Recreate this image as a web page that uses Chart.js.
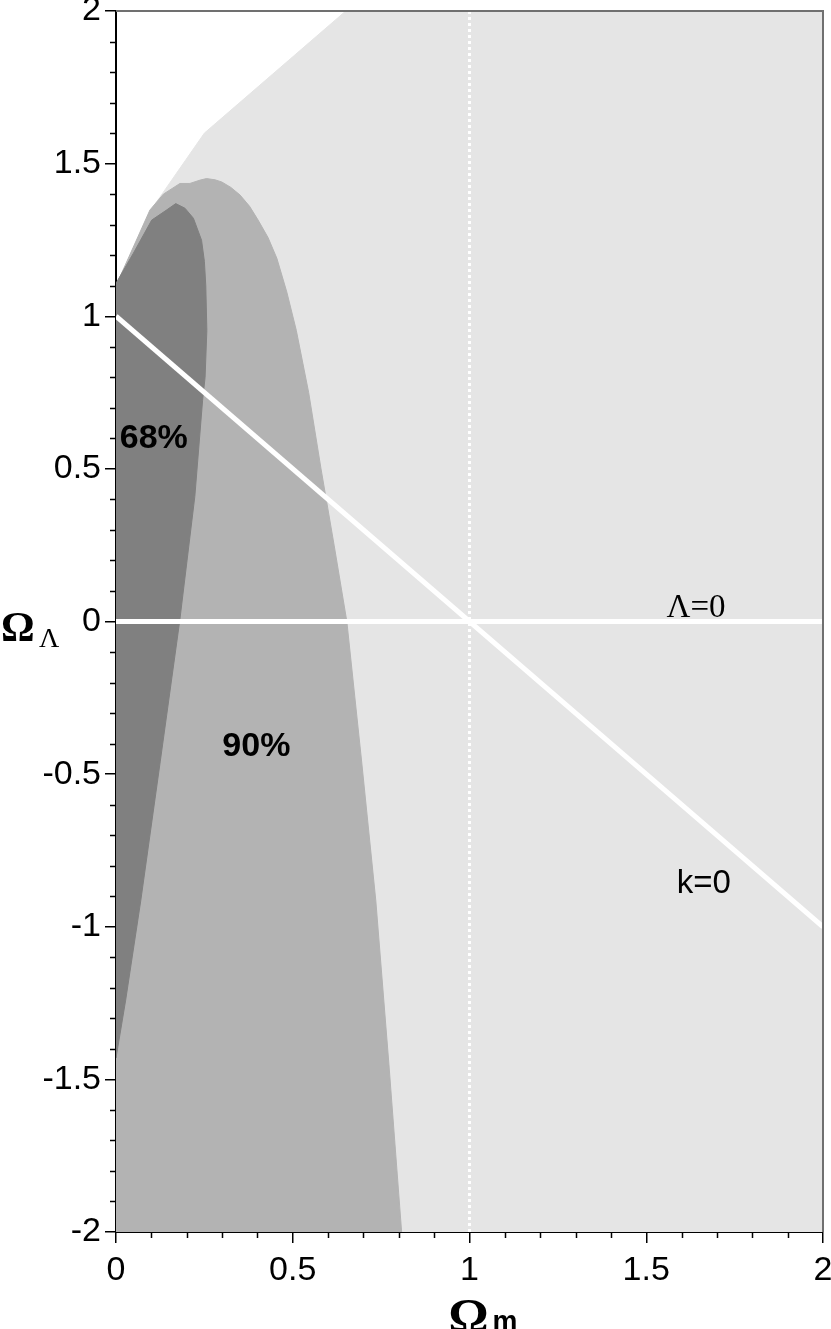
<!DOCTYPE html>
<html>
<head>
<meta charset="utf-8">
<script src="https://cdn.jsdelivr.net/npm/chart.js@4/dist/chart.umd.min.js"></script>
<style>
  body { margin: 0; background: #ffffff; }
</style>
</head>
<body>
<canvas id="myChart" width="831" height="1329"></canvas>
<script>
// allowed region (everything but the upper left corner)
const allowedX = [0, 0.1, 0.25, 0.65, 2, 2, 0, 0];
const allowedY = [1.1, 1.35, 1.6, 2, 2, -2, -2, 1.1];

// 90% confidence contour
const c90X = [0, 0.096, 0.134, 0.181, 0.209, 0.238, 0.256, 0.28, 0.299, 0.325, 0.351, 0.378, 0.402, 0.43, 0.455, 0.483, 0.51, 0.545, 0.58, 0.617, 0.653, 0.695, 0.735, 0.772, 0.808, 0, 0];
const c90Y = [1.1, 1.348, 1.40, 1.435, 1.435, 1.446, 1.451, 1.447, 1.44, 1.422, 1.397, 1.36, 1.315, 1.258, 1.19, 1.08, 0.954, 0.75, 0.5, 0.25, 0, -0.46, -0.915, -1.45, -2, -2, 1.1];

// 68% confidence contour
const c68X = [0, 0.049, 0.101, 0.143, 0.169, 0.195, 0.219, 0.242, 0.25, 0.254, 0.257, 0.252, 0.245, 0.223, 0.18, 0.125, 0.07, 0.027, 0, 0];
const c68Y = [1.108, 1.206, 1.315, 1.348, 1.369, 1.354, 1.321, 1.249, 1.18, 1.1, 0.954, 0.8, 0.725, 0.41, 0, -0.46, -0.915, -1.243, -1.43, 1.108];

// reference lines
const flatX = [0, 2];
const flatY = [1, -1];
const lambdaZeroX = [0, 2];
const lambdaZeroY = [0, 0];
const matterOneX = [1, 1];
const matterOneY = [-2, 2];

// ticks
const xTicks = [0, 0.5, 1, 1.5, 2];
const yTicks = [-2, -1.5, -1, -0.5, 0, 0.5, 1, 1.5, 2];

// text labels inside the plot
const labelText = ['68%', '90%', 'Λ=0', 'k=0'];
const labelX = [0.107, 0.397, 1.641, 1.663];
const labelY = [0.567, -0.44, 0.016, -0.889];

function toPoints(xs, ys) {
    return xs.map((x, i) => ({ x: x, y: ys[i] }));
}

// minor ticks, top/right frame, labels and axis titles
const extras = {
    id: 'extras',
    afterDraw(chart) {
        const ctx = chart.ctx;
        const a = chart.chartArea;
        const sx = chart.scales.x;
        const sy = chart.scales.y;

        ctx.save();
        // frame on top and right
        ctx.strokeStyle = '#707070';
        ctx.lineWidth = 2;
        ctx.beginPath();
        ctx.moveTo(a.left, a.top);
        ctx.lineTo(a.right, a.top);
        ctx.lineTo(a.right, a.bottom);
        ctx.stroke();

        // minor ticks
        ctx.strokeStyle = '#000';
        ctx.lineWidth = 1.5;
        ctx.beginPath();
        for (let i = 0; i <= 20; i++) {
            if (i % 5 === 0) continue;
            const px = Math.round(sx.getPixelForValue(i / 10)) + 0.5;
            ctx.moveTo(px, a.bottom);
            ctx.lineTo(px, a.bottom + 6);
        }
        for (let i = -20; i <= 20; i++) {
            if (i % 5 === 0) continue;
            const py = Math.round(sy.getPixelForValue(i / 10)) + 0.5;
            ctx.moveTo(a.left, py);
            ctx.lineTo(a.left - 6, py);
        }
        ctx.stroke();

        // labels in the plot
        ctx.fillStyle = '#000';
        ctx.textAlign = 'center';
        ctx.textBaseline = 'alphabetic';
        const fonts = ['bold 34px "Liberation Sans"', 'bold 34px "Liberation Sans"', '33px "Liberation Serif"', '33px "Liberation Sans"'];
        labelText.forEach((t, i) => {
            ctx.font = fonts[i];
            ctx.fillText(t, sx.getPixelForValue(labelX[i]), sy.getPixelForValue(labelY[i]));
        });

        // axis titles
        ctx.textAlign = 'left';
        const y0 = sy.getPixelForValue(0);
        ctx.font = 'bold 42px "Liberation Serif"';
        ctx.fillText('Ω', 1, y0 + 19);
        ctx.font = '28px "Liberation Serif"';
        ctx.fillText('Λ', 39, y0 + 25);

        const x1 = sx.getPixelForValue(1);
        ctx.font = 'bold 50px "Liberation Serif"';
        ctx.fillText('Ω', x1 - 21, 1333);
        ctx.font = 'bold 28px "Liberation Sans"';
        ctx.fillText('m', x1 + 23, 1330);
        ctx.restore();
    }
};

const ctx = document.getElementById('myChart').getContext('2d');
new Chart(ctx, {
    type: 'scatter',
    data: {
        datasets: [
            {
                data: toPoints(matterOneX, matterOneY),
                showLine: true,
                borderColor: '#ffffff',
                borderWidth: 3,
                borderDash: [3, 3],
                pointRadius: 0,
                fill: false,
                order: 1
            },
            {
                data: toPoints(lambdaZeroX, lambdaZeroY),
                showLine: true,
                borderColor: '#ffffff',
                borderWidth: 5,
                pointRadius: 0,
                fill: false,
                order: 1
            },
            {
                data: toPoints(flatX, flatY),
                showLine: true,
                borderColor: '#ffffff',
                borderWidth: 5,
                pointRadius: 0,
                fill: false,
                order: 1
            },
            {
                data: toPoints(c68X, c68Y),
                showLine: true,
                borderColor: '#808080',
                backgroundColor: '#808080',
                borderWidth: 1,
                pointRadius: 0,
                fill: 'shape',
                order: 3
            },
            {
                data: toPoints(c90X, c90Y),
                showLine: true,
                borderColor: '#b3b3b3',
                backgroundColor: '#b3b3b3',
                borderWidth: 1,
                pointRadius: 0,
                fill: 'shape',
                order: 4
            },
            {
                data: toPoints(allowedX, allowedY),
                showLine: true,
                borderColor: '#e5e5e5',
                backgroundColor: '#e5e5e5',
                borderWidth: 1,
                pointRadius: 0,
                fill: 'shape',
                order: 5
            }
        ]
    },
    options: {
        responsive: false,
        animation: false,
        layout: {
            padding: { top: 11, right: 8, left: 0, bottom: 0 }
        },
        plugins: {
            legend: { display: false },
            tooltip: { enabled: false },
            title: { display: false }
        },
        scales: {
            x: {
                type: 'linear',
                min: 0,
                max: 2,
                z: 1,
                afterBuildTicks: (scale) => { scale.ticks = xTicks.map(v => ({ value: v })); },
                afterFit: (scale) => {
                    scale.height = 97;
                    scale.paddingLeft = 0; scale.paddingRight = 0;
                    scale.paddingTop = 0; scale.paddingBottom = 0;
                },
                border: { display: true, color: '#000', width: 2 },
                grid: { display: true, drawOnChartArea: false, drawTicks: true, tickLength: 11, color: '#000', lineWidth: 1.5 },
                ticks: {
                    color: '#000',
                    padding: 7,
                    maxRotation: 0,
                    font: { family: '"Liberation Sans"', size: 34 },
                    callback: (v) => String(v)
                }
            },
            y: {
                type: 'linear',
                min: -2,
                max: 2,
                z: 1,
                afterBuildTicks: (scale) => { scale.ticks = yTicks.map(v => ({ value: v })); },
                afterFit: (scale) => {
                    scale.width = 116;
                    scale.paddingLeft = 0; scale.paddingRight = 0;
                    scale.paddingTop = 0; scale.paddingBottom = 0;
                },
                border: { display: true, color: '#000', width: 2 },
                grid: { display: true, drawOnChartArea: false, drawTicks: true, tickLength: 11, color: '#000', lineWidth: 1.5 },
                ticks: {
                    color: '#000',
                    padding: 4,
                    font: { family: '"Liberation Sans"', size: 34 },
                    callback: (v) => String(v)
                }
            }
        }
    },
    plugins: [extras]
});
</script>
</body>
</html>
